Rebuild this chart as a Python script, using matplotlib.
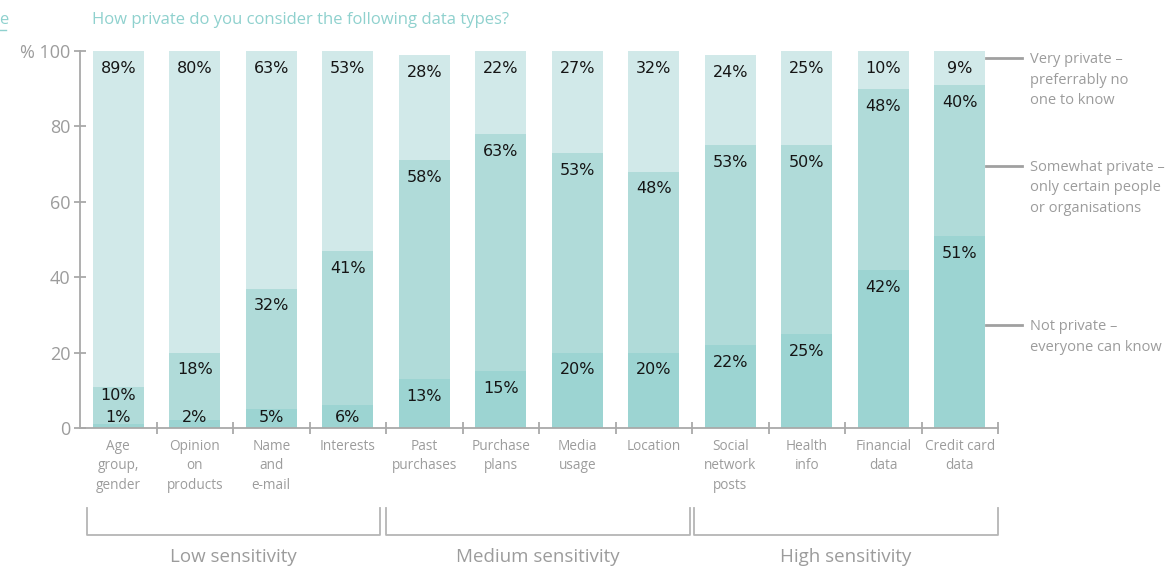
import matplotlib
matplotlib.use("Agg")
import matplotlib.pyplot as plt
from matplotlib.lines import Line2D

# ---- data ---------------------------------------------------------------
categories = [
    "Age\ngroup,\ngender", "Opinion\non\nproducts", "Name\nand\ne-mail", "Interests",
    "Past\npurchases", "Purchase\nplans", "Media\nusage", "Location",
    "Social\nnetwork\nposts", "Health\ninfo", "Financial\ndata", "Credit card\ndata",
]
not_private = [1, 2, 5, 6, 13, 15, 20, 20, 22, 25, 42, 51]
somewhat_private = [10, 18, 32, 41, 58, 63, 53, 48, 53, 50, 48, 40]
very_private = [89, 80, 63, 53, 28, 22, 27, 32, 24, 25, 10, 9]

series_names = [
    "Not private –\neveryone can know",
    "Somewhat private –\nonly certain people\nor organisations",
    "Very private –\npreferrably no\none to know",
]
legend_levels = [27.3, 69.5, 98.1]

groups = ["Low sensitivity", "Medium sensitivity", "High sensitivity"]
group_spans = [(-0.41, 3.42), (3.50, 7.47), (7.53, 11.50)]

yticks = [0, 20, 40, 60, 80, 100]
ytick_labels = ["0", "20", "40", "60", "80", "% 100"]

title = "How private do you consider the following data types?"

# ---- style --------------------------------------------------------------
c_not = "#9cd4d2"
c_some = "#b0dbd9"
c_very = "#d1e9e9"
axis_grey = "#a9a9a9"
text_grey = "#9c9c9c"
teal_text = "#8fd1ce"
label_dark = "#151515"
ui_font = ["Open Sans", "DejaVu Sans"]
num_font = ["DejaVu Sans"]

fig = plt.figure(figsize=(11.76, 5.73), dpi=100)
W, H = 1176, 573
x0_px, x1_px = 80, 998
y0_px, y100_px = 428, 51
ax = fig.add_axes([x0_px / W, 1 - y0_px / H,
                   (x1_px - x0_px) / W, (y0_px - y100_px) / H])

x = list(range(len(categories)))
bw = 0.67
ax.bar(x, not_private, width=bw, color=c_not, linewidth=0)
ax.bar(x, somewhat_private, width=bw, bottom=not_private, color=c_some, linewidth=0)
tops_mid = [a + b for a, b in zip(not_private, somewhat_private)]
ax.bar(x, very_private, width=bw, bottom=tops_mid, color=c_very, linewidth=0)

ax.set_xlim(-0.5, len(categories) - 0.5)
ax.set_ylim(0, 100)

# value labels, placed just under each segment's top edge
off = 4.6
for i in x:
    y_bot = max(not_private[i] - off, 2.9)
    y_mid = tops_mid[i] - off
    if y_mid - y_bot < 5.5:
        y_mid = y_bot + 5.8
    y_top = tops_mid[i] + very_private[i] - off
    for val, yy in ((not_private[i], y_bot), (somewhat_private[i], y_mid),
                    (very_private[i], y_top)):
        ax.text(i, yy, f"{val}%", ha="center", va="center", fontsize=11.5,
                color=label_dark, family=num_font, weight="medium")

# axes styling
for s in ("top", "right"):
    ax.spines[s].set_visible(False)
for s in ("left", "bottom"):
    ax.spines[s].set_color(axis_grey)
    ax.spines[s].set_linewidth(1.3)

ax.set_yticks(yticks)
ax.set_yticklabels(ytick_labels, family=ui_font, fontsize=13, color=text_grey)
ax.tick_params(axis="y", direction="inout", length=8, width=1.3,
               color=axis_grey, pad=3)
ax.set_xticks([k + 0.5 for k in range(len(categories))])
ax.set_xticklabels([])
ax.tick_params(axis="x", direction="inout", length=8, width=1.3, color=axis_grey)

# category labels
for i, name in enumerate(categories):
    ax.text(i, -3.0, name, ha="center", va="top", fontsize=9.8,
            color=text_grey, family=ui_font, linespacing=1.38)

# group brackets
for name, (a, b) in zip(groups, group_spans):
    ax.add_line(Line2D([a, a, b, b], [-21.2, -28.4, -28.4, -21.2],
                       color="#b5b5b5", lw=1.3, clip_on=False))
    ax.text((a + b) / 2, -34.2, name, ha="center", va="center", fontsize=13.5,
            color=text_grey, family=ui_font)

# series key on the right
for name, lvl in zip(series_names, legend_levels):
    ax.add_line(Line2D([11.34, 11.81], [lvl, lvl], color="#a0a0a0", lw=2,
                       clip_on=False))
    ax.text(11.92, lvl + 1.6, name, ha="left", va="top", fontsize=10.5,
            color=text_grey, family=ui_font, linespacing=1.5)

# title and link fragment
fig.text(92 / W, 1 - 20 / H, title, ha="left", va="center", fontsize=12,
         color=teal_text, family=ui_font)
fig.text(-1 / W, 1 - 20 / H, "e", ha="left", va="center", fontsize=12,
         color=teal_text, family=ui_font)
fig.add_artist(Line2D([0, 6 / W], [1 - 30 / H, 1 - 30 / H], color=teal_text,
                      lw=1, transform=fig.transFigure))

fig.savefig("out.png", dpi=100, facecolor="white")
